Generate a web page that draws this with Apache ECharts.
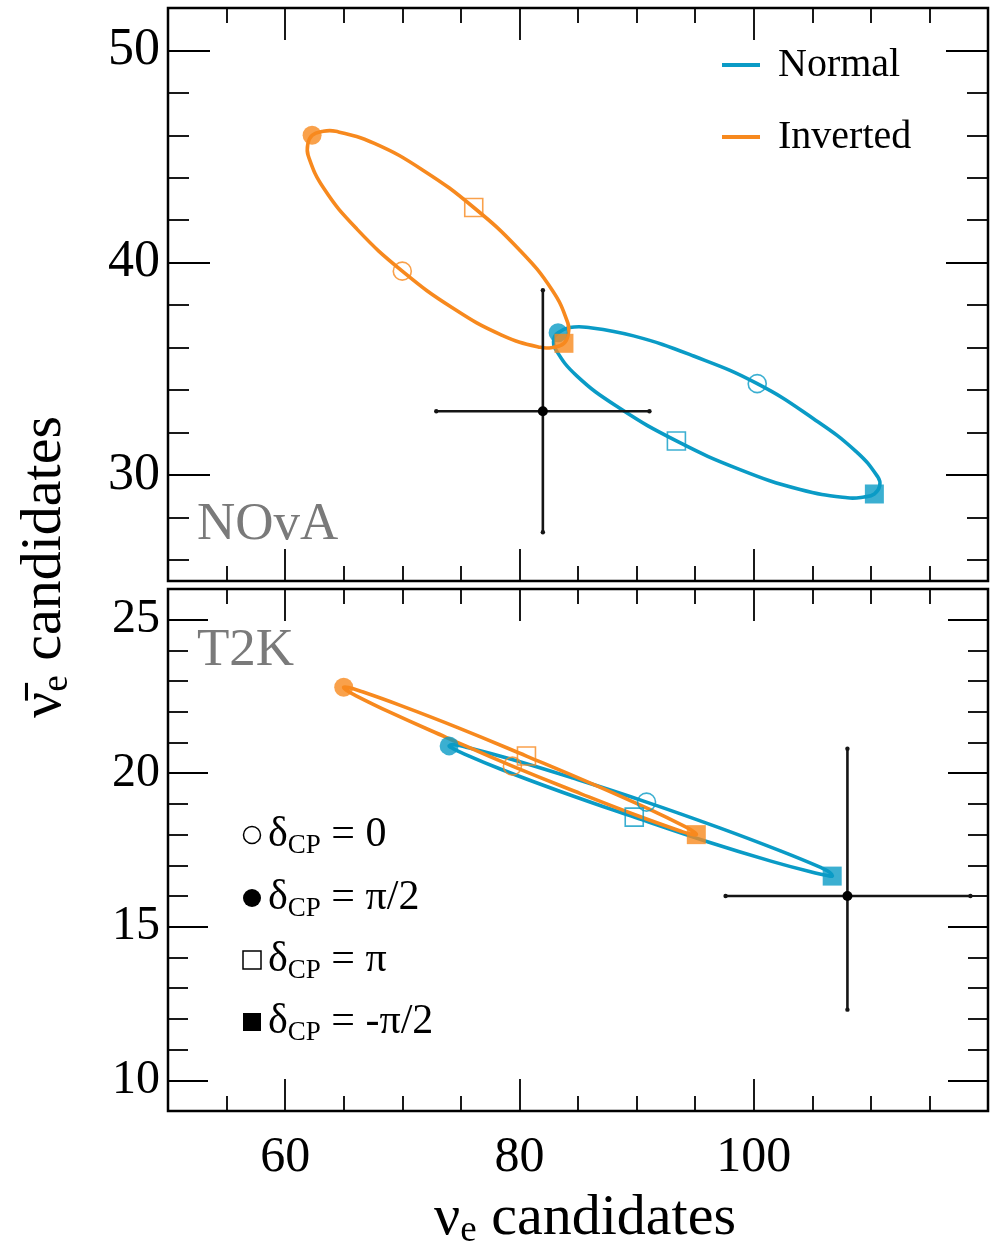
<!DOCTYPE html>
<html><head><meta charset="utf-8">
<script src="https://cdn.jsdelivr.net/npm/echarts@6/dist/echarts.min.js"></script>
<style>html,body{margin:0;padding:0;background:#fff}#c{width:998px;height:1248px}</style>
</head><body><div id="c"></div>
<script>
const FONT = "'Liberation Serif','Times New Roman',serif";
const BLUE = '#0a9bc6';
const ORANGE = '#f7891e';

// ---- axis ticks ----
const xMajorTicks = [60, 80, 100];
const xMinorTicks = [55, 65, 70, 75, 85, 90, 95, 105, 110, 115];
const novaYMajor = [30, 40, 50];
const novaYMinor = [26, 28, 32, 34, 36, 38, 42, 44, 46, 48];
const t2kYMajor = [10, 15, 20, 25];
const t2kYMinor = [11, 12, 13, 14, 16, 17, 18, 19, 21, 22, 23, 24];

// ---- marker points, order: δCP = 0, π/2, π, -π/2 ----
const deltaLabels = ['0', 'π/2', 'π', '-π/2'];
const novaNormalX = [100.3, 83.3, 93.4, 110.3];
const novaNormalY = [34.3, 36.7, 31.6, 29.1];
const novaInvertedX = [70.0, 62.3, 76.1, 83.8];
const novaInvertedY = [39.6, 46.0, 42.6, 36.2];
const t2kNormalX = [90.85, 74.0, 89.8, 106.7];
const t2kNormalY = [19.06, 20.89, 18.57, 16.65];
const t2kInvertedX = [79.4, 65.0, 80.6, 95.1];
const t2kInvertedY = [20.23, 22.8, 20.56, 18.0];

// ---- contours (closed loops starting at δCP = -π/2) ----
const novaNormalCurveX = [110.3, 109.42, 108.0, 103.96, 98.83, 93.4, 88.5, 84.87, 83.06, 82.94, 83.3, 84.28, 85.7, 89.74, 94.87, 100.3, 105.1, 108.75, 110.6, 110.76];
const novaNormalCurveY = [29.1, 28.96, 28.92, 29.31, 30.25, 31.6, 33.16, 34.68, 35.94, 36.41, 36.7, 36.94, 36.96, 36.55, 35.6, 34.3, 32.65, 31.1, 29.9, 29.49];
const novaInvertedCurveX = [83.8, 82.97, 81.79, 78.48, 74.34, 70.0, 66.13, 63.31, 61.97, 61.94, 62.3, 63.13, 64.31, 67.62, 71.76, 76.1, 79.97, 82.79, 84.13, 84.16];
const novaInvertedCurveY = [36.2, 36.02, 36.01, 36.59, 37.85, 39.6, 41.58, 43.49, 45.04, 45.6, 46.0, 46.18, 46.19, 45.62, 44.36, 42.6, 40.62, 38.71, 37.16, 36.6];
const t2kNormalCurveX = [106.7, 106.28, 105.26, 101.54, 96.12, 89.8, 83.61, 78.42, 75.04, 74.21, 74.0, 74.42, 75.45, 79.16, 84.58, 90.85, 97.09, 102.28, 105.66, 106.49];
const t2kNormalCurveY = [16.65, 16.67, 16.75, 17.13, 17.76, 18.57, 19.39, 20.13, 20.67, 20.83, 20.89, 20.93, 20.85, 20.47, 19.84, 19.06, 18.22, 17.47, 16.94, 16.77];
const t2kInvertedCurveX = [95.1, 94.69, 93.73, 90.27, 85.26, 79.4, 73.74, 68.98, 65.92, 65.17, 65.0, 65.41, 66.38, 69.83, 74.84, 80.6, 86.36, 91.12, 94.19, 94.93];
const t2kInvertedCurveY = [18.0, 18.01, 18.12, 18.59, 19.33, 20.23, 21.17, 21.98, 22.55, 22.72, 22.8, 22.79, 22.68, 22.21, 21.47, 20.56, 19.63, 18.82, 18.25, 18.08];

// ---- measured data points: x, y, xLow, xHigh, yLow, yHigh ----
const novaData = [82.0, 33.0, 72.9, 91.1, 27.3, 38.7];
const t2kData = [108.0, 16.0, 97.6, 118.5, 12.3, 20.8];

const zip = (xs, ys) => xs.map((x, i) => [x, ys[i]]);

const SYM = ['circle', 'circle', 'rect', 'rect'];
const FILLED = [false, true, false, true];
function markerData(xs, ys, color) {
  return xs.map((x, i) => ({
    value: [x, ys[i]],
    name: 'δCP = ' + deltaLabels[i],
    symbol: SYM[i],
    symbolSize: FILLED[i] ? 19 : 18,
    itemStyle: FILLED[i]
      ? { color: color, borderWidth: 0 }
      : { color: 'rgba(0,0,0,0)', borderColor: color, borderWidth: 1.6 }
  }));
}

const tickStyle = { color: '#000', width: 1.8 };
function xAx(grid, pos, ticks, len, label) {
  return {
    type: 'value', gridIndex: grid, position: pos, min: 50, max: 120,
    axisLine: { show: false, onZero: false }, splitLine: { show: false },
    axisTick: { show: true, inside: true, length: len, customValues: ticks, lineStyle: tickStyle },
    axisLabel: { show: label, customValues: ticks, margin: 22, fontFamily: FONT, fontSize: 50, color: '#000' }
  };
}
function yAx(grid, pos, min, max, ticks, len, label, fs) {
  return {
    type: 'value', gridIndex: grid, position: pos, min: min, max: max,
    axisLine: { show: false, onZero: false }, splitLine: { show: false },
    axisTick: { show: true, inside: true, length: len, customValues: ticks, lineStyle: tickStyle },
    axisLabel: { show: label, customValues: ticks, margin: 8, fontFamily: FONT, fontSize: fs, color: '#000' }
  };
}

function errRender(params, api) {
  const x = api.value(0), y = api.value(1);
  const c = api.coord([x, y]);
  const l = api.coord([api.value(2), y]);
  const r = api.coord([api.value(3), y]);
  const b = api.coord([x, api.value(4)]);
  const t = api.coord([x, api.value(5)]);
  const st = { stroke: '#151515', lineWidth: 2.6 };
  return {
    type: 'group', children: [
      { type: 'line', shape: { x1: l[0], y1: l[1], x2: r[0], y2: r[1] }, style: st },
      { type: 'line', shape: { x1: b[0], y1: b[1], x2: t[0], y2: t[1] }, style: st },
      { type: 'circle', shape: { cx: l[0], cy: l[1], r: 2.2 }, style: { fill: '#151515' } },
      { type: 'circle', shape: { cx: r[0], cy: r[1], r: 2.2 }, style: { fill: '#151515' } },
      { type: 'circle', shape: { cx: b[0], cy: b[1], r: 2.2 }, style: { fill: '#151515' } },
      { type: 'circle', shape: { cx: t[0], cy: t[1], r: 2.2 }, style: { fill: '#151515' } },
      { type: 'circle', shape: { cx: c[0], cy: c[1], r: 5 }, style: { fill: '#000' } }
    ]
  };
}

// closed smooth contour through the read points, positioned by the axes
function curve(name, xs, ys, color, xi, yi) {
  const pts = zip(xs, ys);
  return {
    type: 'custom', name: name, xAxisIndex: xi, yAxisIndex: yi, data: pts,
    encode: { x: 0, y: 1 }, color: color, itemStyle: { color: color },
    renderItem: function (params, api) {
      if (params.dataIndex !== 0) return null;
      const px = pts.map(p => api.coord(p));
      return {
        type: 'polygon', shape: { points: px, smooth: 0.45 },
        style: { fill: 'none', stroke: color, lineWidth: 3.6, lineJoin: 'round' }
      };
    },
    z: 3, animation: false
  };
}
function markers(name, xs, ys, color, xi, yi) {
  return {
    type: 'scatter', name: name, xAxisIndex: xi, yAxisIndex: yi,
    data: markerData(xs, ys, color), z: 5, animation: false
  };
}
function errSeries(name, d, xi, yi) {
  return {
    type: 'custom', name: name, xAxisIndex: xi, yAxisIndex: yi,
    data: [d], encode: { x: [0, 2, 3], y: [1, 4, 5] },
    renderItem: errRender, z: 4, animation: false
  };
}

const richSub = (main, sub, lh, slh) => ({
  a: { fontFamily: FONT, fontSize: main, lineHeight: lh, verticalAlign: 'middle', fill: '#000', color: '#000' },
  b: { fontFamily: FONT, fontSize: sub, lineHeight: slh, verticalAlign: 'bottom', fill: '#000', color: '#000' }
});

const legendRowsY = [835, 898, 960, 1022];
const legendGraphics = [];
deltaLabels.forEach((lab, i) => {
  const cy = legendRowsY[i];
  if (SYM[i] === 'circle') {
    legendGraphics.push({
      type: 'circle', shape: { cx: 252, cy: cy, r: FILLED[i] ? 9 : 8.5 },
      style: FILLED[i] ? { fill: '#000' } : { fill: 'none', stroke: '#000', lineWidth: 1.5 }
    });
  } else {
    legendGraphics.push({
      type: 'rect', shape: { x: 243, y: cy - 9, width: 18, height: 18 },
      style: FILLED[i] ? { fill: '#000' } : { fill: 'none', stroke: '#000', lineWidth: 1.5 }
    });
  }
  legendGraphics.push({
    type: 'text', x: 268, y: cy,
    style: {
      text: '{a|δ}{b|CP}{a| = ' + lab + '}', align: 'left', verticalAlign: 'middle',
      rich: richSub(42, 27, 48, 22)
    }
  });
});

const chart = echarts.init(document.getElementById('c'), null, { renderer: 'canvas' });
chart.setOption({
  backgroundColor: '#fff',
  animation: false,
  textStyle: { fontFamily: FONT },
  grid: [
    { left: 168, top: 8, width: 820, height: 573, show: true, borderColor: '#000', borderWidth: 2.5, backgroundColor: 'transparent', containLabel: false },
    { left: 168, top: 589, width: 820, height: 522, show: true, borderColor: '#000', borderWidth: 2.5, backgroundColor: 'transparent', containLabel: false }
  ],
  xAxis: [
    xAx(0, 'bottom', xMajorTicks, 32, false),
    xAx(0, 'bottom', xMinorTicks, 15, false),
    xAx(0, 'top', xMajorTicks, 32, false),
    xAx(0, 'top', xMinorTicks, 15, false),
    xAx(1, 'bottom', xMajorTicks, 32, true),
    xAx(1, 'bottom', xMinorTicks, 15, false),
    xAx(1, 'top', xMajorTicks, 32, false),
    xAx(1, 'top', xMinorTicks, 15, false)
  ],
  yAxis: [
    yAx(0, 'left', 25, 52, novaYMajor, 42, true, 52),
    yAx(0, 'left', 25, 52, novaYMinor, 21, false, 52),
    yAx(0, 'right', 25, 52, novaYMajor, 42, false, 52),
    yAx(0, 'right', 25, 52, novaYMinor, 21, false, 52),
    yAx(1, 'left', 9, 26, t2kYMajor, 40, true, 48),
    yAx(1, 'left', 9, 26, t2kYMinor, 20, false, 48),
    yAx(1, 'right', 9, 26, t2kYMajor, 40, false, 48),
    yAx(1, 'right', 9, 26, t2kYMinor, 20, false, 48)
  ],
  legend: {
    data: ['Normal', 'Inverted'], orient: 'vertical', left: 722, top: 45, padding: 0,
    icon: 'rect', itemWidth: 38, itemHeight: 4, itemGap: 32, selectedMode: false,
    textStyle: { fontFamily: FONT, fontSize: 40, color: '#000', lineHeight: 40, padding: [0, 0, 0, 13] }
  },
  series: [
    curve('Normal', novaNormalCurveX, novaNormalCurveY, BLUE, 0, 0),
    curve('Inverted', novaInvertedCurveX, novaInvertedCurveY, ORANGE, 0, 0),
    errSeries('NOvA data', novaData, 0, 0),
    markers('NOvA Normal δCP', novaNormalX, novaNormalY, BLUE, 0, 0),
    markers('NOvA Inverted δCP', novaInvertedX, novaInvertedY, ORANGE, 0, 0),
    curve('Normal', t2kNormalCurveX, t2kNormalCurveY, BLUE, 4, 4),
    curve('Inverted', t2kInvertedCurveX, t2kInvertedCurveY, ORANGE, 4, 4),
    errSeries('T2K data', t2kData, 4, 4),
    markers('T2K Normal δCP', t2kNormalX, t2kNormalY, BLUE, 4, 4),
    markers('T2K Inverted δCP', t2kInvertedX, t2kInvertedY, ORANGE, 4, 4)
  ],
  graphic: [
    { type: 'text', x: 197, y: 525, style: { text: 'NOvA', fontFamily: FONT, fontSize: 53, fill: '#7a7a7a', align: 'left', verticalAlign: 'middle' } },
    { type: 'text', x: 197, y: 651, style: { text: 'T2K', fontFamily: FONT, fontSize: 53, fill: '#7a7a7a', align: 'left', verticalAlign: 'middle' } },
    { type: 'text', x: 585, y: 1219, style: { text: '{a|ν}{b|e}{a| candidates}', align: 'center', verticalAlign: 'middle', rich: richSub(58, 37, 62, 26) } },
    { type: 'text', x: 45, y: 567, rotation: Math.PI / 2, style: { text: '{a|ν\u0304}{b|e}{a| candidates}', align: 'center', verticalAlign: 'middle', rich: richSub(58, 37, 62, 26) } }
  ].concat(legendGraphics)
});
</script>
</body></html>
